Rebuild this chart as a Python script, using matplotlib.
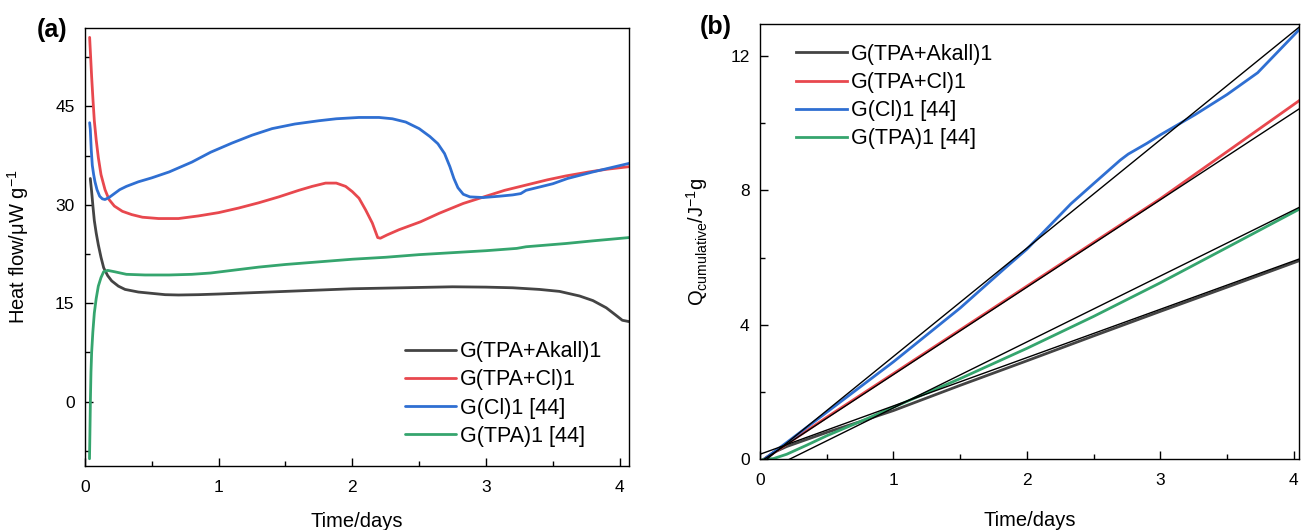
import matplotlib
matplotlib.use("Agg")
import matplotlib.pyplot as plt
from matplotlib.ticker import MultipleLocator

plt.rcParams['font.family'] = ['Liberation Sans', 'DejaVu Sans']
plt.rcParams['mathtext.fontset'] = 'custom'
plt.rcParams['mathtext.rm'] = 'Liberation Sans'
plt.rcParams['mathtext.it'] = 'Liberation Sans:italic'

labels = ['G(TPA+Akall)1', 'G(TPA+Cl)1', 'G(Cl)1 [44]', 'G(TPA)1 [44]']
colors = ['#444444', '#e8484e', '#2f6fd2', '#35a56e']

# (a) heat flow, uW/g
t_akall = [0.04, 0.05, 0.06, 0.07, 0.084, 0.1, 0.12, 0.14, 0.17, 0.2, 0.25, 0.3, 0.4, 0.5, 0.6, 0.7,
           0.85, 1.0, 1.25, 1.5, 1.75, 2.0, 2.25, 2.5, 2.75, 3.0, 3.2, 3.4, 3.55, 3.7, 3.8, 3.9, 3.97, 4.02, 4.07]
q_akall = [34.0, 32.0, 29.7, 27.6, 25.7, 23.9, 22.0, 20.4, 19.2, 18.4, 17.6, 17.1, 16.7, 16.5, 16.3, 16.25,
           16.3, 16.4, 16.6, 16.8, 17.0, 17.2, 17.3, 17.4, 17.5, 17.45, 17.35, 17.1, 16.8, 16.1, 15.4, 14.3, 13.2, 12.4, 12.2]

t_tpacl = [0.035, 0.04, 0.05, 0.06, 0.07, 0.084, 0.1, 0.12, 0.15, 0.18, 0.22, 0.28, 0.35, 0.43, 0.55, 0.7,
           0.85, 1.0, 1.15, 1.3, 1.45, 1.6, 1.7, 1.8, 1.88, 1.95, 2.0, 2.05, 2.1, 2.15, 2.19, 2.21, 2.26,
           2.35, 2.51, 2.65, 2.83, 3.0, 3.14, 3.3, 3.46, 3.6, 3.77, 3.9, 4.07]
q_tpacl = [55.5, 53.5, 49.5, 46.0, 42.8, 39.9, 37.2, 34.6, 32.3, 30.8, 29.8, 29.0, 28.5, 28.1, 27.9, 27.9,
           28.3, 28.8, 29.5, 30.3, 31.2, 32.2, 32.8, 33.3, 33.3, 32.8, 32.0, 31.0, 29.2, 27.2, 25.0, 24.9, 25.4,
           26.2, 27.4, 28.7, 30.2, 31.3, 32.2, 33.0, 33.8, 34.4, 35.0, 35.4, 35.8]

t_cl = [0.035, 0.04, 0.047, 0.055, 0.065, 0.075, 0.09, 0.11, 0.13, 0.15, 0.18, 0.22, 0.26, 0.31, 0.4, 0.5,
        0.63, 0.8, 0.94, 1.1, 1.25, 1.4, 1.57, 1.75, 1.88, 2.05, 2.2, 2.3, 2.4, 2.5, 2.58, 2.64, 2.69, 2.73,
        2.76, 2.79, 2.83, 2.88, 2.98, 3.1, 3.2, 3.26, 3.3, 3.4, 3.5, 3.61, 3.8, 4.07]
q_cl = [42.5, 41.5, 38.4, 36.0, 34.6, 33.5, 32.3, 31.3, 30.9, 30.8, 31.1, 31.7, 32.3, 32.8, 33.5, 34.1,
        35.0, 36.5, 38.0, 39.4, 40.6, 41.6, 42.3, 42.8, 43.1, 43.3, 43.3, 43.1, 42.6, 41.6, 40.4, 39.3, 37.8, 35.8,
        34.0, 32.6, 31.6, 31.2, 31.1, 31.3, 31.5, 31.7, 32.2, 32.7, 33.2, 34.0, 35.0, 36.3]

t_tpa = [0.034, 0.037, 0.041, 0.045, 0.05, 0.059, 0.07, 0.084, 0.1, 0.12, 0.14, 0.17, 0.22, 0.31, 0.45, 0.63,
         0.8, 0.94, 1.1, 1.3, 1.5, 1.75, 2.0, 2.25, 2.5, 2.75, 3.0, 3.23, 3.3, 3.45, 3.6, 3.8, 4.07]
q_tpa = [-8.7, -5.0, 0.5, 4.5, 7.5, 10.6, 13.5, 15.7, 17.6, 18.9, 19.8, 20.0, 19.8, 19.4, 19.3, 19.3,
         19.4, 19.6, 20.0, 20.5, 20.9, 21.3, 21.7, 22.0, 22.4, 22.7, 23.0, 23.35, 23.6, 23.85, 24.1, 24.5, 25.0]

# (b) cumulative heat, J/g
tb_akall = [0.03, 0.1, 0.2, 0.3, 0.5, 0.75, 1.0, 1.5, 2.0, 2.5, 3.0, 3.5, 4.07]
Qb_akall = [0.0, 0.2, 0.38, 0.52, 0.8, 1.12, 1.45, 2.2, 2.93, 3.67, 4.4, 5.12, 5.95]
tb_tpacl = [0.03, 0.2, 0.5, 1.0, 1.5, 2.0, 2.5, 3.0, 3.5, 4.07]
Qb_tpacl = [0.0, 0.45, 1.25, 2.55, 3.85, 5.15, 6.45, 7.75, 9.15, 10.75]
tb_cl = [0.03, 0.2, 0.5, 1.0, 1.5, 1.84, 2.0, 2.33, 2.5, 2.7, 2.76, 2.9, 3.0, 3.26, 3.5, 3.73, 4.07]
Qb_cl = [0.0, 0.5, 1.4, 2.9, 4.5, 5.7, 6.25, 7.6, 8.2, 8.9, 9.08, 9.4, 9.65, 10.25, 10.85, 11.5, 12.9]
tb_tpa = [0.03, 0.1, 0.2, 0.35, 0.5, 0.75, 1.0, 1.5, 2.0, 2.5, 3.0, 3.5, 4.07]
Qb_tpa = [0.0, 0.02, 0.15, 0.42, 0.7, 1.12, 1.55, 2.4, 3.3, 4.25, 5.25, 6.3, 7.5]

# straight fits drawn over the cumulative curves (start/end points)
fit_t = [[0.0, 4.07], [0.03, 4.07], [0.05, 4.07], [0.22, 4.07]]
fit_Q = [[0.15, 6.0], [0.0, 10.5], [0.0, 12.95], [0.0, 7.55]]

fig = plt.figure(figsize=(13.05, 5.30), dpi=100)
ax1 = fig.add_axes([0.0651, 0.1208, 0.4169, 0.826])
ax2 = fig.add_axes([0.5824, 0.1334, 0.413, 0.8213])

series_a = [(t_akall, q_akall), (t_tpacl, q_tpacl), (t_cl, q_cl), (t_tpa, q_tpa)]
for (t, q), c, lab in zip(series_a, colors, labels):
    ax1.plot(t, q, color=c, lw=2.0, label=lab, solid_capstyle='round')

series_b = [(tb_akall, Qb_akall), (tb_tpacl, Qb_tpacl), (tb_cl, Qb_cl), (tb_tpa, Qb_tpa)]
for (t, q), c, lab in zip(series_b, colors, labels):
    ax2.plot(t, q, color=c, lw=2.0, label=lab)
for ft, fq in zip(fit_t, fit_Q):
    ax2.plot(ft, fq, color='black', lw=1.0, zorder=3)

ax1.set_xlim(0, 4.07)
ax1.set_ylim(-9.8, 56.9)
ax1.yaxis.set_major_locator(MultipleLocator(15))
ax1.yaxis.set_minor_locator(MultipleLocator(7.5))

ax2.set_xlim(0, 4.04)
ax2.set_ylim(0, 12.95)
ax2.yaxis.set_major_locator(MultipleLocator(4))
ax2.yaxis.set_minor_locator(MultipleLocator(2))

for ax in (ax1, ax2):
    ax.xaxis.set_major_locator(MultipleLocator(1))
    ax.xaxis.set_minor_locator(MultipleLocator(0.5))
    ax.tick_params(which='both', direction='in', labelsize=12.5, width=1.0)
    ax.tick_params(which='major', length=6)
    ax.tick_params(which='minor', length=3.5)
    ax.tick_params(axis='y', pad=7.5)
    ax.tick_params(axis='x', pad=10)
    for s in ax.spines.values():
        s.set_linewidth(1.0)
    ax.set_xlabel('Time/days', fontsize=14.5)

ax1.set_ylabel('Heat flow/μW g$^{-1}$', fontsize=14.5)
ax1.yaxis.set_label_coords(-0.10, 0.5)
ax1.xaxis.set_label_coords(0.5, -0.106)
ax2.set_ylabel(r'Q$_{\mathrm{cumulative}}$/J$^{-1}$g', fontsize=14.5)
ax2.yaxis.set_label_coords(-0.093, 0.5)
ax2.xaxis.set_label_coords(0.5, -0.118)

leg_kw = dict(frameon=False, fontsize=15.5, handlelength=2.35, handletextpad=0.2,
              labelspacing=0.33, borderpad=0, borderaxespad=0, loc='upper left')
ax1.legend(bbox_to_anchor=(0.3103, 0.356), bbox_transform=fig.transFigure, **leg_kw)
ax2.legend(bbox_to_anchor=(0.610, 0.917), bbox_transform=fig.transFigure, **leg_kw)

fig.text(37 / 1305, 1 - 30 / 530, '(a)', fontsize=18, fontweight='bold', va='center', ha='left')
fig.text(700 / 1305, 1 - 27 / 530, '(b)', fontsize=18, fontweight='bold', va='center', ha='left')

fig.savefig('out.png', dpi=100)
